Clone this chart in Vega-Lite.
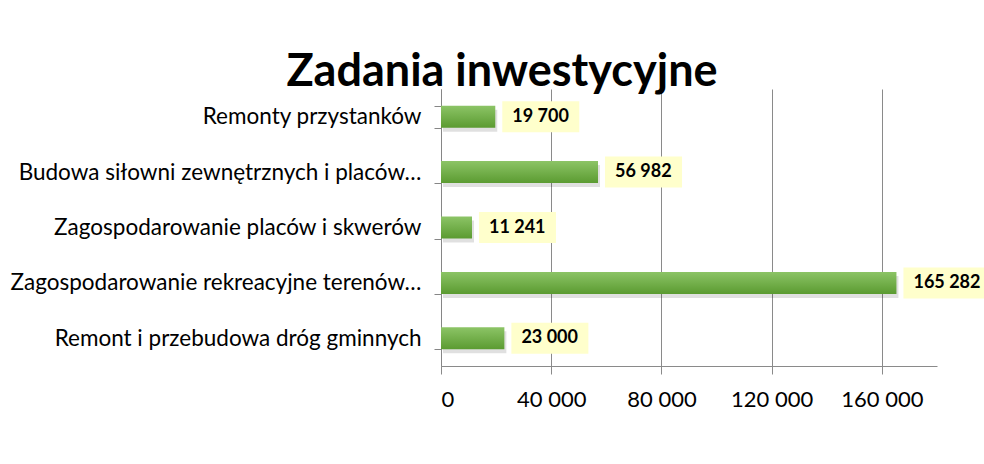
{
  "$schema": "https://vega.github.io/schema/vega-lite/v6.json",
  "width": 496,
  "height": 277,
  "autosize": {"type": "none"},
  "padding": {"left": 441, "top": 89, "right": 47, "bottom": 98},
  "background": "white",
  "config": {
    "view": {"stroke": null},
    "locale": {"number": {"decimal": ",", "thousands": " ", "grouping": [3], "currency": ["", " zł"]}},
    "font": "Lato"
  },
  "title": {
    "text": "Zadania inwestycyjne",
    "font": "Lato",
    "fontSize": 45,
    "fontWeight": "bold",
    "color": "#000000",
    "frame": "group",
    "anchor": "middle",
    "dx": -187,
    "baseline": "alphabetic",
    "offset": -53
  },
  "data": {
    "values": [
      {"task": "Remonty przystanków", "value": 19700},
      {"task": "Budowa siłowni zewnętrznych i placów…", "value": 56982},
      {"task": "Zagospodarowanie placów i skwerów", "value": 11241},
      {"task": "Zagospodarowanie rekreacyjne terenów…", "value": 165282},
      {"task": "Remont i przebudowa dróg gminnych", "value": 23000}
    ]
  },
  "encoding": {
    "y": {
      "field": "task",
      "type": "nominal",
      "sort": null,
      "scale": {"paddingInner": 0.6, "paddingOuter": 0.3},
      "axis": {
        "title": null,
        "tickBand": "extent",
        "tickSize": 7,
        "tickColor": "#868686",
        "domainColor": "#868686",
        "labelFont": "Lato",
        "labelFontSize": 22.5,
        "labelColor": "#000000",
        "labelPadding": 13,
        "labelLimit": 500,
        "grid": false
      }
    }
  },
  "layer": [
    {
      "mark": {"type": "bar", "height": 22, "color": "#000000", "opacity": 0.12, "yOffset": 4, "xOffset": 2},
      "encoding": {
        "x": {
          "field": "value",
          "type": "quantitative",
          "scale": {"domain": [0, 180000], "nice": false},
          "axis": {
            "title": null,
            "values": [0, 40000, 80000, 120000, 160000],
            "format": ",d",
            "grid": true,
            "gridColor": "#8a8a8a",
            "tickColor": "#8a8a8a",
            "domainColor": "#8a8a8a",
            "tickSize": 8,
            "labelFont": "Lato",
            "labelFontSize": 22,
            "labelColor": "#000000",
            "labelPadding": 15
          }
        }
      }
    },
    {
      "mark": {
        "type": "bar",
        "height": 22,
        "color": {
          "gradient": "linear",
          "x1": 0, "y1": 0, "x2": 0, "y2": 1,
          "stops": [
            {"offset": 0, "color": "#8cc466"},
            {"offset": 1, "color": "#5b9b31"}
          ]
        }
      },
      "encoding": {"x": {"field": "value", "type": "quantitative"}}
    },
    {
      "transform": [{"filter": "datum.value < 100000"}],
      "mark": {"type": "bar", "height": 31, "color": "#ffffcc", "xOffset": 7, "x2Offset": 84},
      "encoding": {
        "x": {"field": "value", "type": "quantitative"},
        "x2": {"field": "value"}
      }
    },
    {
      "transform": [{"filter": "datum.value >= 100000"}],
      "mark": {"type": "bar", "height": 31, "color": "#ffffcc", "xOffset": 7, "x2Offset": 96},
      "encoding": {
        "x": {"field": "value", "type": "quantitative"},
        "x2": {"field": "value"}
      }
    },
    {
      "mark": {"type": "text", "align": "left", "baseline": "middle", "dx": 17, "font": "Lato", "fontSize": 18, "fontWeight": "bold", "color": "#000000"},
      "encoding": {
        "x": {"field": "value", "type": "quantitative"},
        "text": {"field": "value", "type": "quantitative", "format": ",d"}
      }
    }
  ]
}
